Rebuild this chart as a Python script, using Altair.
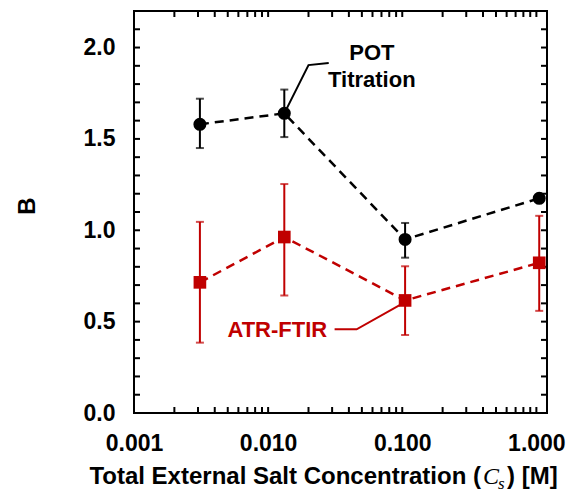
import altair as alt
import pandas as pd

# ---- data ----
conc = [0.0031, 0.0132, 0.105, 1.05]
b_pot = [1.58, 1.64, 0.95, 1.175]
pot_lo = [1.45, 1.51, 0.85, 1.175]
pot_hi = [1.72, 1.77, 1.04, 1.175]
b_atr = [0.715, 0.963, 0.616, 0.822]
atr_lo = [0.385, 0.643, 0.427, 0.559]
atr_hi = [1.046, 1.253, 0.803, 1.079]

x_tick_values = [0.001, 0.01, 0.1, 1.0]
y_tick_values = [0.0, 0.5, 1.0, 1.5, 2.0]
x_minor = [m * 10 ** e for e in (-3, -2, -1) for m in range(2, 10)] + [0.01, 0.1, 1.0]
y_minor = [round(0.1 * i, 1) for i in range(1, 22)]

pot_leader_x = [0.0132, 0.0200, 0.0283]
pot_leader_y = [1.64, 1.904, 1.915]
atr_leader_x = [0.0313, 0.0457, 0.1009]
atr_leader_y = [0.458, 0.458, 0.60]

W, H = 413, 402
FONT = "Liberation Sans"
RED = "#C00000"
BLACK = "#000000"

xscale = alt.Scale(type="log", domain=[0.001, 1.2], nice=False)
yscale = alt.Scale(domain=[0, 2.2], nice=False, zero=False)
xaxis = alt.Axis(values=x_tick_values, format=".3f", title=None, grid=False, domain=False,
                 ticks=False, tickSize=0, labelFont=FONT, labelFontWeight="bold",
                 labelFontSize=23, labelColor="black", labelPadding=19, labelFlush=False,
                 labelOverlap=False)
yaxis = alt.Axis(values=y_tick_values, format=".1f", title=None, grid=False, domain=False,
                 ticks=False, tickSize=0, labelFont=FONT, labelFontWeight="bold",
                 labelFontSize=23, labelColor="black", labelPadding=19, labelFlush=False,
                 labelOverlap=False)


def X(f):
    return alt.X(f, scale=xscale, axis=xaxis)


def Y(f):
    return alt.Y(f, scale=yscale, axis=yaxis)


def series(x, y, lo, hi, color, shape, size):
    df = pd.DataFrame({"x": x, "y": y, "lo": lo, "hi": hi})
    base = alt.Chart(df)
    line = base.mark_line(color=color, strokeWidth=2.5, strokeDash=[9, 6]).encode(x=X("x:Q"), y=Y("y:Q"))
    rule = base.mark_rule(color=color, strokeWidth=2).encode(x=X("x:Q"), y=Y("lo:Q"), y2="hi:Q")
    cap_lo = base.mark_tick(color=color, size=8, thickness=2, orient="horizontal").encode(x=X("x:Q"), y=Y("lo:Q"))
    cap_hi = base.mark_tick(color=color, size=8, thickness=2, orient="horizontal").encode(x=X("x:Q"), y=Y("hi:Q"))
    pts = base.mark_point(shape=shape, filled=True, size=size, color=color, opacity=1).encode(x=X("x:Q"), y=Y("y:Q"))
    return [line, rule, cap_lo, cap_hi, pts]


def leader(xs, ys, color):
    df = pd.DataFrame({"x": xs, "y": ys, "o": list(range(len(xs)))})
    return alt.Chart(df).mark_line(color=color, strokeWidth=2).encode(x=X("x:Q"), y=Y("y:Q"), order="o:O")


def label(text, x, y, color):
    df = pd.DataFrame({"x": [x], "y": [y], "t": [text]})
    return alt.Chart(df).mark_text(font=FONT, fontWeight="bold", fontSize=22, color=color,
                                   align="center", baseline="middle").encode(x=X("x:Q"), y=Y("y:Q"), text="t:N")


def free_text(text, x, y, **kw):
    df = pd.DataFrame({"t": [text]})
    return alt.Chart(df).mark_text(**kw).encode(x=alt.value(x), y=alt.value(y), text="t:N")


ydf = pd.DataFrame({"v": y_minor})
xdf = pd.DataFrame({"v": x_minor})
tick_layers = [
    alt.Chart(ydf).mark_rule(color="black", strokeWidth=2).encode(y=Y("v:Q"), x=alt.value(0), x2=alt.value(6)),
    alt.Chart(ydf).mark_rule(color="black", strokeWidth=2).encode(y=Y("v:Q"), x=alt.value(W - 6), x2=alt.value(W)),
    alt.Chart(xdf).mark_rule(color="black", strokeWidth=2).encode(x=X("v:Q"), y=alt.value(H - 6), y2=alt.value(H)),
    alt.Chart(xdf).mark_rule(color="black", strokeWidth=2).encode(x=X("v:Q"), y=alt.value(0), y2=alt.value(6)),
]

tf = dict(font=FONT, fontWeight="bold", fontSize=24, color="black", baseline="middle")
titles = [
    free_text("B", -106, 195, angle=270, align="center", **tf),
    free_text("Total External Salt Concentration (", 347, 466, align="right", **tf),
    free_text("C", 349, 466, align="left", font="Liberation Serif", fontStyle="italic",
              fontSize=24, color="black", baseline="middle"),
    free_text("s", 364, 473, align="left", font="Liberation Serif", fontStyle="italic",
              fontSize=17, color="black", baseline="middle"),
    free_text(") [M]", 373, 466, align="left", **tf),
]

layers = (tick_layers
          + series(conc, b_atr, atr_lo, atr_hi, RED, "square", 160)
          + series(conc, b_pot, pot_lo, pot_hi, BLACK, "circle", 170)
          + [leader(pot_leader_x, pot_leader_y, BLACK), leader(atr_leader_x, atr_leader_y, RED),
             label("POT", 0.0593, 1.97, BLACK), label("Titration", 0.0593, 1.82, BLACK),
             label("ATR-FTIR", 0.0117, 0.455, RED)]
          + titles)

chart = alt.layer(*layers).properties(
    width=W, height=H,
    autosize=alt.AutoSizeParams(type="none"),
    padding={"left": 134, "top": 11, "right": 30, "bottom": 83},
    background="white",
).configure_view(stroke="black", strokeWidth=2)

chart.save("out.html", embed_options={"renderer": "svg", "actions": False})
